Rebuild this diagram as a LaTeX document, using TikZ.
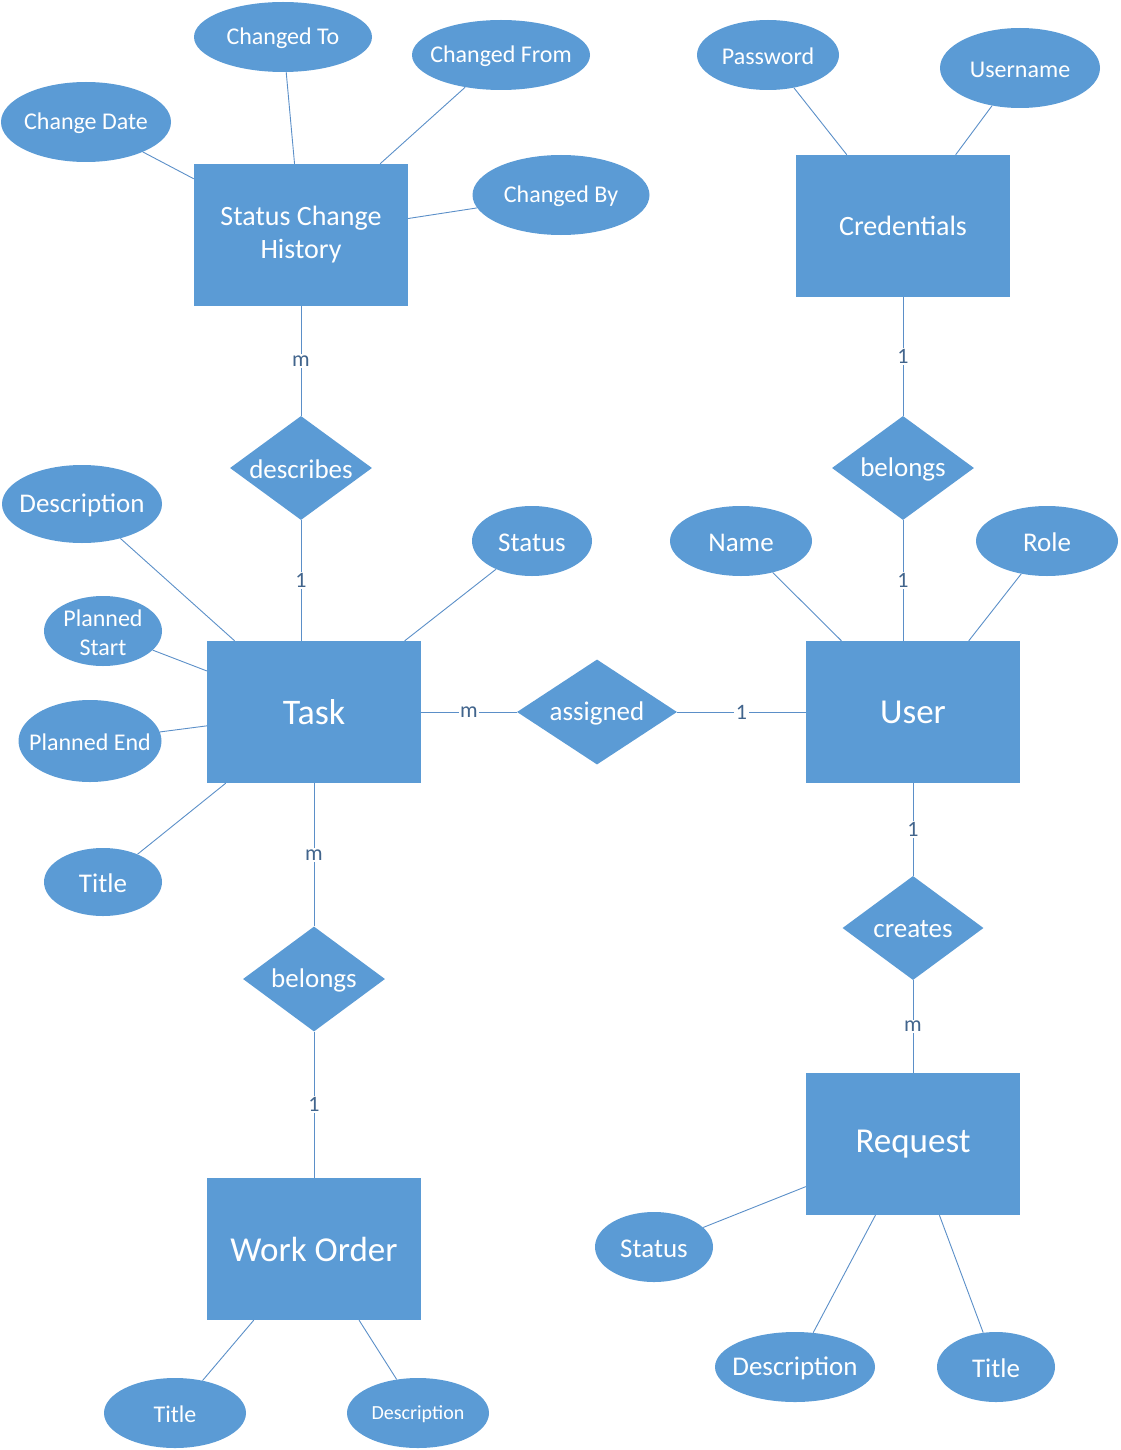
\documentclass[tikz,border=0pt]{standalone}
\usepackage{fontspec}
\setmainfont{Carlito}
\usetikzlibrary{shapes.geometric}
\definecolor{ermblue}{HTML}{5B9BD5}
\definecolor{linecol}{HTML}{5B8FC8}
\definecolor{cardcol}{HTML}{41648C}
\newcommand\fz[2]{\fontsize{#1pt}{#2pt}\selectfont}
\begin{document}
\begin{tikzpicture}[x=1pt,y=-1pt,
  ent/.style={rectangle, fill=ermblue, text=white, minimum width=214pt, minimum height=142pt, inner sep=0pt, align=center},
  attr/.style={ellipse, fill=ermblue, inner sep=0pt},
  rel/.style={diamond, fill=ermblue, inner sep=0pt},
  txt/.style={text=white, align=center, inner sep=0pt, yshift=-1.5pt},
  link/.style={draw=linecol, line width=0.9pt},
  card/.style={fill=white, text=cardcol, inner sep=1.5pt, font={\fz{22}{25}}}]
\useasboundingbox (0,0) rectangle (1120,1450);

% ---------- entities ----------
\node[ent, font={\fz{28}{33}}] (sch) at (301,235) {Status Change\\History};
\node[ent, font={\fz{28}{33}}] (cred) at (903,226) {Credentials};
\node[ent, font={\fz{36}{40}}] (task) at (314,712) {Task};
\node[ent, font={\fz{35}{40}}] (user) at (913,712) {User};
\node[ent, font={\fz{35}{40}}] (wo) at (314,1249) {Work Order};
\node[ent, font={\fz{35}{40}}] (req) at (913,1144) {Request};

% ---------- relationships ----------
\node[rel, minimum width=142pt, minimum height=104pt, label={[txt,font={\fz{27}{30}}]center:describes}] (desc) at (301,468) {};
\node[rel, minimum width=142pt, minimum height=104pt, label={[txt,font={\fz{27}{30}}]center:belongs}] (bel1) at (903,468) {};
\node[rel, minimum width=160pt, minimum height=105pt, label={[txt,font={\fz{27}{30}}]center:assigned}] (asg) at (597,712) {};
\node[rel, minimum width=141pt, minimum height=104pt, label={[txt,font={\fz{27}{30}}]center:creates}] (cre) at (913,928) {};
\node[rel, minimum width=142pt, minimum height=105pt, label={[txt,font={\fz{27}{30}}]center:belongs}] (bel2) at (314,979) {};

% ---------- attributes: Status Change History ----------
\node[attr, minimum width=170pt, minimum height=80pt, label={[txt,font={\fz{24}{28}}]center:Change Date}] (cdate) at (86,122) {};
\node[attr, minimum width=178pt, minimum height=70pt, label={[txt,font={\fz{24}{28}}]center:Changed To}] (cto) at (283,37) {};
\node[attr, minimum width=178pt, minimum height=70pt, label={[txt,font={\fz{24}{28}}]center:Changed From}] (cfrom) at (501,55) {};
\node[attr, minimum width=177pt, minimum height=80pt, label={[txt,font={\fz{24}{28}}]center:Changed By}] (cby) at (561,195) {};

% ---------- attributes: Credentials ----------
\node[attr, minimum width=142pt, minimum height=70pt, label={[txt,font={\fz{24}{28}}]center:Password}] (pwd) at (768,55) {};
\node[attr, minimum width=160pt, minimum height=80pt, label={[txt,font={\fz{24}{28}}]center:Username}] (uname) at (1020,68) {};

% ---------- attributes: Task ----------
\node[attr, minimum width=160pt, minimum height=78pt, label={[txt,font={\fz{27}{30}}]center:Description}] (tdesc) at (82,504) {};
\node[attr, minimum width=120pt, minimum height=70pt, label={[txt,font={\fz{27}{30}}]center:Status}] (tstat) at (532,541) {};
\node[attr, minimum width=118pt, minimum height=70pt, label={[txt,font={\fz{24}{29}}]center:Planned\\Start}] (pstart) at (103,631) {};
\node[attr, minimum width=143pt, minimum height=82pt, label={[txt,font={\fz{24}{28}}]center:Planned End}] (pend) at (90,741) {};
\node[attr, minimum width=118pt, minimum height=68pt, label={[txt,font={\fz{27}{30}}]center:Title}] (ttitle) at (103,882) {};

% ---------- attributes: User ----------
\node[attr, minimum width=142pt, minimum height=70pt, label={[txt,font={\fz{27}{30}}]center:Name}] (uname2) at (741,541) {};
\node[attr, minimum width=142pt, minimum height=70pt, label={[txt,font={\fz{27}{30}}]center:Role}] (role) at (1047,541) {};

% ---------- attributes: Request ----------
\node[attr, minimum width=118pt, minimum height=70pt, label={[txt,font={\fz{27}{30}}]center:Status}] (rstat) at (654,1247) {};
\node[attr, minimum width=160pt, minimum height=70pt, label={[txt,font={\fz{27}{30}}]center:Description}] (rdesc) at (795,1367) {};
\node[attr, minimum width=118pt, minimum height=70pt, label={[txt,font={\fz{27}{30}}]center:Title}] (rtitle) at (996,1367) {};

% ---------- attributes: Work Order ----------
\node[attr, minimum width=142pt, minimum height=70pt, label={[txt,font={\fz{24}{28}}]center:Title}] (wtitle) at (175,1413) {};
\node[attr, minimum width=142pt, minimum height=70pt, label={[txt,font={\fz{20}{24}}]center:Description}] (wdesc) at (418,1413) {};

% ---------- attribute links ----------
\draw[link] (cdate) -- (sch);
\draw[link] (cto) -- (sch);
\draw[link] (cfrom) -- (sch);
\draw[link] (cby) -- (sch);
\draw[link] (pwd) -- (cred);
\draw[link] (uname) -- (cred);
\draw[link] (tdesc) -- (task);
\draw[link] (tstat) -- (task);
\draw[link] (pstart) -- (task);
\draw[link] (pend) -- (task);
\draw[link] (ttitle) -- (task);
\draw[link] (uname2) -- (user);
\draw[link] (role) -- (user);
\draw[link] (rstat) -- (req);
\draw[link] (rdesc) -- (req);
\draw[link] (rtitle) -- (req);
\draw[link] (wtitle) -- (wo);
\draw[link] (wdesc) -- (wo);

% ---------- relationship links ----------
\draw[link] (sch) -- node[card]{m} (desc);
\draw[link] (desc) -- node[card]{1} (desc |- task.north);
\draw[link] (task) -- node[card]{m} (asg);
\draw[link] (asg) -- node[card]{1} (user);
\draw[link] (cred) -- node[card]{1} (bel1);
\draw[link] (bel1) -- node[card]{1} (bel1 |- user.north);
\draw[link] (user) -- node[card]{1} (cre);
\draw[link] (cre) -- node[card]{m} (req);
\draw[link] (task) -- node[card]{m} (bel2);
\draw[link] (bel2) -- node[card]{1} (wo);
\end{tikzpicture}
\end{document}
